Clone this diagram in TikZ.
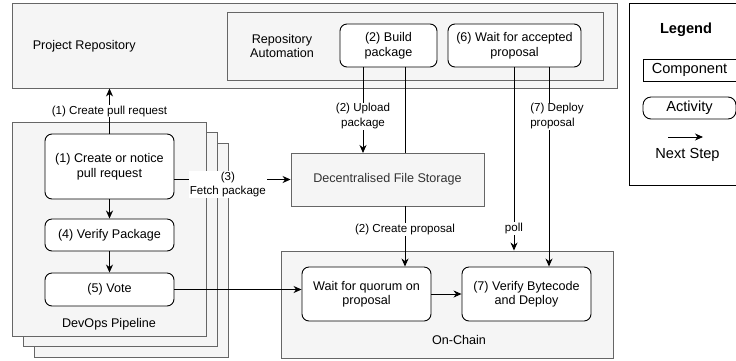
\documentclass[tikz,border=0pt]{standalone}
\usepackage{fontspec}
\setmainfont{Liberation Sans}
\usepackage{tikz}
\usetikzlibrary{arrows.meta}
\definecolor{compfill}{HTML}{F5F5F5}
\definecolor{compline}{HTML}{666666}
\definecolor{storetext}{HTML}{333333}
\newcommand{\boxfont}{\fontsize{12.6}{14.5}\selectfont}
\newcommand{\lblfont}{\fontsize{11.6}{14.5}\selectfont}
\newcommand{\legfont}{\fontsize{14.6}{17}\selectfont}
\tikzset{
    component/.style={draw=compline, fill=compfill, inner sep=0pt}, % grey container box
    activity/.style={draw, fill=white, rounded corners=7pt, align=center, inner sep=0pt, font=\boxfont}, % white rounded step
    nextstep/.style={-{Stealth[length=8pt, width=7pt, inset=2.5pt]}}, % arrow to the next step
    steplabel/.style={fill=white, inner sep=1pt, align=center, font=\lblfont} % text on a connector
}

\begin{document}
\begin{tikzpicture}[x=1pt, y=-1pt, line width=0.9pt]
    \useasboundingbox (0,0) rectangle (736,360);
    \clip (0,0) rectangle (736,360);

    % repository with its automation
    \node[component, minimum width=605, minimum height=85] (projrepo) at (314.5,45.5) {};
    \node[font=\boxfont, anchor=west] (projlabel) at (29,46) {Project Repository};
    \node[component, minimum width=376, minimum height=68] (repoauto) at (415,46) {};
    \node[font=\boxfont, align=center] (autolabel) at (282,46) {Repository\\Automation};
    \node[activity, minimum width=97, minimum height=43] (build) at (388.5,45.5) {(2) Build\\package};
    \node[activity, minimum width=133, minimum height=43] (waitacc) at (514.5,45.5) {(6) Wait for accepted\\proposal};

    % legend
    \node[draw, fill=white, minimum width=116, minimum height=182, inner sep=0pt] (legend) at (687,94) {};
    \node[font=\legfont\bfseries] (legtitle) at (686,30) {Legend};
    \node[draw, minimum width=93, minimum height=22, inner sep=0pt, font=\legfont] (legcomp) at (689.5,70) {Component};
    \node[draw, rounded corners=8pt, minimum width=93, minimum height=22, inner sep=0pt, font=\legfont] (legact) at (689.5,108) {Activity};
    \coordinate (legfrom) at (668,137); \coordinate (legto) at (703,137);
    \draw[nextstep] (legfrom) -- (legto);
    \node[font=\legfont] (legnext) at (687.5,155) {Next Step};

    % devops pipeline, stacked
    \foreach \i in {2,1} {\node[component, minimum width=194, minimum height=214] (pipe\i) at (109+11*\i, 229+10.5*\i) {};}
    \node[component, minimum width=194, minimum height=214] (pipe) at (109,229) {};
    \node[font=\boxfont] (pipelabel) at (109,324) {DevOps Pipeline};
    \node[activity, minimum width=129, minimum height=65] (create) at (109.5,166.5) {(1) Create or notice\\pull request};
    \node[activity, minimum width=129, minimum height=32] (verify) at (109.5,235) {(4) Verify Package};
    \node[activity, minimum width=129, minimum height=33] (vote) at (109.5,289.5) {(5) Vote};

    % on-chain part
    \node[component, minimum width=332, minimum height=107] (onchain) at (447,304.5) {};
    \node[font=\boxfont] (chainlabel) at (459,340) {On-Chain};
    \node[activity, minimum width=129, minimum height=54] (waitq) at (366.5,294) {Wait for quorum on\\proposal};
    \node[activity, minimum width=129, minimum height=54] (deploy) at (526.5,294) {(7) Verify Bytecode\\and Deploy};

    % lines from the automation
    \coordinate (upx) at (363,0); \coordinate (cpx) at (405,0);
    \coordinate (pollx) at (514,0); \coordinate (depx) at (549,0);
    \draw (build.south -| cpx) -- (cpx |- 160,160);
    \draw[nextstep] (build.south -| upx) -- (upx |- 153,153) node[steplabel, pos=0.57] {(2) Upload\\package};
    \draw[nextstep] (waitacc.south -| pollx) -- (onchain.north -| pollx) node[steplabel, pos=0.88] {poll};
    \draw[nextstep] (waitacc.south -| depx) -- (deploy.north -| depx) node[steplabel, pos=0.245, xshift=8, align=left] {(7) Deploy\\proposal};

    % storage
    \node[component, minimum width=193, minimum height=53, font=\boxfont, text=storetext] (store) at (387.5,179.5) {Decentralised File Storage};
    \draw[nextstep] (store.south -| cpx) -- (waitq.north -| cpx) node[steplabel, pos=0.38] {(2) Create proposal};

    % pipeline steps
    \draw[nextstep] (create.north) -- (create.north |- projrepo.south) node[steplabel, midway] {(1) Create pull request};
    \draw[nextstep, line width=1.6pt] (create) -- (verify);
    \draw[nextstep] (verify) -- (vote);
    \draw[nextstep] (create.east |- store.west) -- (store.west) node[steplabel, pos=0.46, yshift=-5] {(3)\\Fetch package};
    \draw[nextstep] (vote.east) -- (vote.east -| waitq.west);
    \draw[nextstep] (waitq) -- (deploy);
\end{tikzpicture}
\end{document}
